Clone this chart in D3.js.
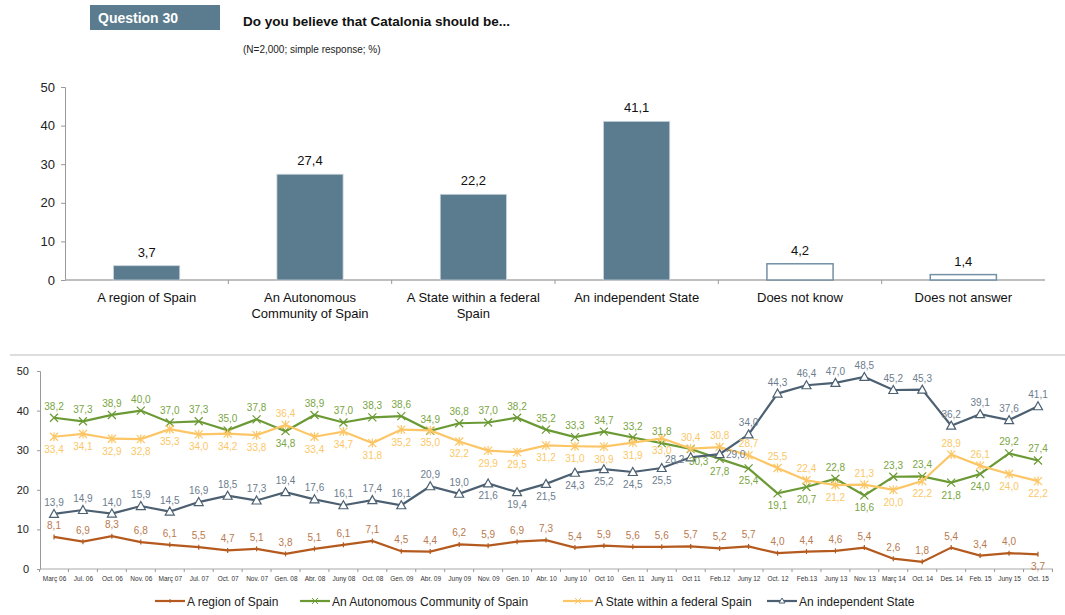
<!DOCTYPE html>
<html><head><meta charset="utf-8">
<script src="https://cdn.jsdelivr.net/npm/d3@7"></script>
<style>body{margin:0;background:#fff;font-family:"Liberation Sans",Arial,sans-serif}</style>
</head><body><svg id="c" width="1065" height="615"></svg>
<script>
// ---- data ----
const barCategories = ["A region of Spain","An Autonomous Community of Spain","A State within a federal Spain","An independent State","Does not know","Does not answer"];
const barLabelLines = [["A region of Spain"],["An Autonomous","Community of Spain"],["A State within a federal","Spain"],["An independent State"],["Does not know"],["Does not answer"]];
const barValues = [3.7, 27.4, 22.2, 41.1, 4.2, 1.4];
const barHollow = [false,false,false,false,true,true];
const barTicks = [0,10,20,30,40,50];

const waves = ["Març 06","Jul. 06","Oct. 06","Nov. 06","Març 07","Jul. 07","Oct. 07","Nov. 07","Gen. 08","Abr. 08","Juny 08","Oct. 08","Gen. 09","Abr. 09","Juny 09","Nov. 09","Gen. 10","Abr. 10","Juny 10","Oct 10","Gen. 11","Juny 11","Oct 11","Feb.12","Juny 12","Oct. 12","Feb.13","Juny 13","Nov. 13","Març 14","Oct. 14","Des. 14","Feb. 15","Juny 15","Oct. 15"];
const regionVals = [8.1,6.9,8.3,6.8,6.1,5.5,4.7,5.1,3.8,5.1,6.1,7.1,4.5,4.4,6.2,5.9,6.9,7.3,5.4,5.9,5.6,5.6,5.7,5.2,5.7,4.0,4.4,4.6,5.4,2.6,1.8,5.4,3.4,4.0,3.7];
const autonomousVals = [38.2,37.3,38.9,40.0,37.0,37.3,35.0,37.8,34.8,38.9,37.0,38.3,38.6,34.9,36.8,37.0,38.2,35.2,33.3,34.7,33.2,31.8,30.3,27.8,25.4,19.1,20.7,22.8,18.6,23.3,23.4,21.8,24.0,29.2,27.4];
const federalVals = [33.4,34.1,32.9,32.8,35.3,34.0,34.2,33.8,36.4,33.4,34.7,31.8,35.2,35.0,32.2,29.9,29.5,31.2,31.0,30.9,31.9,33.0,30.4,30.8,28.7,25.5,22.4,21.2,21.3,20.0,22.2,28.9,26.1,24.0,22.2];
const independentVals = [13.9,14.9,14.0,15.9,14.5,16.9,18.5,17.3,19.4,17.6,16.1,17.4,16.1,20.9,19.0,21.6,19.4,21.5,24.3,25.2,24.5,25.5,28.2,29.0,34.0,44.3,46.4,47.0,48.5,45.2,45.3,36.2,39.1,37.6,41.1];
// label side: 1 = above, -1 = below, 0 = right, 2 = below-left, 3 = below-right
const regionPos = [1,1,1,1,1,1,1,1,1,1,1,1,1,1,1,1,1,1,1,1,1,1,1,1,1,1,1,1,1,1,1,1,1,1,-1];
const autonomousPos = [1,1,1,1,1,1,1,1,-1,1,1,1,1,1,1,1,1,1,1,1,1,1,3,-1,-1,-1,-1,1,-1,1,1,-1,-1,1,1];
const federalPos = [-1,-1,-1,-1,-1,-1,-1,-1,1,-1,-1,-1,-1,-1,-1,-1,-1,-1,-1,-1,-1,-1,1,1,1,1,1,-1,1,-1,-1,1,1,-1,-1];
const independentPos = [1,1,1,1,1,1,1,1,1,1,1,1,1,1,1,-1,-1,-1,-1,-1,-1,-1,2,0,1,1,1,1,1,1,1,1,1,1,1];
const lineTicks = [0,10,20,30,40,50];

const fmt = v => v.toFixed(1).replace(".", ",");
const svg = d3.select("#c");

// ---- header ----
svg.append("rect").attr("x",90).attr("y",5).attr("width",130).attr("height",25).attr("fill","#5b7b8e");
svg.append("text").attr("x",98).attr("y",23).attr("fill","#fff").attr("font-size",14).attr("font-weight","bold").text("Question 30");
svg.append("text").attr("x",243).attr("y",26).attr("fill","#111").attr("font-size",13.5).attr("font-weight","bold").text("Do you believe that Catalonia should be...");
svg.append("text").attr("x",243).attr("y",53).attr("fill","#222").attr("font-size",10).text("(N=2,000; simple response; %)");

// ---- bar chart ----
const bx = d3.scaleBand().domain(barCategories).range([65,1045]).paddingInner(0.595).paddingOuter(0.2975);
const by = d3.scaleLinear().domain([0,50]).range([280,87]);
const gby = svg.append("g").attr("transform","translate(65,0)")
  .call(d3.axisLeft(by).tickValues(barTicks).tickSize(4).tickPadding(6));
gby.select(".domain").attr("stroke","#999");
gby.selectAll(".tick line").attr("stroke","#999");
gby.selectAll("text").attr("font-size",13).attr("fill","#222").attr("font-family","Liberation Sans, Arial");
svg.append("line").attr("x1",65).attr("x2",1045).attr("y1",280).attr("y2",280).attr("stroke","#aaa").attr("stroke-width",1.5);
const step = bx.step();
// tick marks between categories
barCategories.slice(1).forEach((c,i)=>{
  const xx = bx(c) - (step - bx.bandwidth())/2;
  svg.append("line").attr("x1",xx).attr("x2",xx).attr("y1",280).attr("y2",284).attr("stroke","#999");
});
svg.selectAll(".bar").data(barValues).enter().append("rect")
  .attr("x",(d,i)=>bx(barCategories[i])).attr("width",bx.bandwidth())
  .attr("y",d=>by(d)).attr("height",d=>by(0)-by(d))
  .attr("fill",(d,i)=>barHollow[i]?"#fff":"#5b7b8e")
  .attr("stroke",(d,i)=>barHollow[i]?"#7390a6":"#c7d3db").attr("stroke-width",(d,i)=>barHollow[i]?1.5:0.8);
svg.selectAll(".bl").data(barValues).enter().append("text")
  .attr("x",(d,i)=>bx(barCategories[i])+bx.bandwidth()/2).attr("y",d=>by(d)-9)
  .attr("text-anchor","middle").attr("font-size",13).attr("fill","#111").text(fmt);
barLabelLines.forEach((lines,i)=>{
  lines.forEach((t,j)=>{
    svg.append("text").attr("x",bx(barCategories[i])+bx.bandwidth()/2).attr("y",302+j*16)
      .attr("text-anchor","middle").attr("font-size",13).attr("fill","#111").text(t);
  });
});

// separator
svg.append("line").attr("x1",10).attr("x2",1065).attr("y1",355).attr("y2",355).attr("stroke","#ddd").attr("stroke-width",2);

// ---- line chart ----
const lx = d3.scalePoint().domain(waves).range([54,1038]);
const ly = d3.scaleLinear().domain([0,50]).range([569,371]);
const gly = svg.append("g").attr("transform","translate(40,0)")
  .call(d3.axisLeft(ly).tickValues(lineTicks).tickSize(3).tickPadding(8));
gly.select(".domain").attr("stroke","#999");
gly.selectAll(".tick line").attr("stroke","#999");
gly.selectAll("text").attr("font-size",11).attr("fill","#222").attr("font-family","Liberation Sans, Arial");
const glx = svg.append("g").attr("transform","translate(0,569)")
  .call(d3.axisBottom(lx).tickSize(0).tickPadding(7));
glx.select(".domain").remove();
glx.selectAll("text").attr("font-size",6.5).attr("fill","#333").attr("font-family","Liberation Sans, Arial");
svg.append("line").attr("x1",40).attr("x2",1053).attr("y1",569).attr("y2",569).attr("stroke","#aaa").attr("stroke-width",1.2);
const lstep = lx.step();
d3.range(0,36).forEach(i=>{
  const xx = 54 - lstep/2 + i*lstep;
  svg.append("line").attr("x1",xx).attr("x2",xx).attr("y1",569).attr("y2",572).attr("stroke","#999");
});

const series = [
  {name:"A region of Spain", vals:regionVals, pos:regionPos, color:"#b45a1e", label:"#b97a4f", marker:"dash"},
  {name:"An Autonomous Community of Spain", vals:autonomousVals, pos:autonomousPos, color:"#6b9a35", label:"#79a543", marker:"x"},
  {name:"A State within a federal Spain", vals:federalVals, pos:federalPos, color:"#fcc666", label:"#fbc766", marker:"star"},
  {name:"An independent State", vals:independentVals, pos:independentPos, color:"#4c6072", label:"#6d7d8d", marker:"tri"}
];
const line = d3.line().x((d,i)=>lx(waves[i])).y(d=>ly(d));
function marker(g, type, color, x, y){
  if(type==="x"){
    g.append("path").attr("d",`M${x-4},${y-4}L${x+4},${y+4}M${x-4},${y+4}L${x+4},${y-4}`).attr("stroke",color).attr("stroke-width",1.2).attr("fill","none");
  } else if(type==="star"){
    g.append("path").attr("d",`M${x-4},${y-4}L${x+4},${y+4}M${x-4},${y+4}L${x+4},${y-4}M${x},${y-4.5}L${x},${y+4.5}`).attr("stroke",color).attr("stroke-width",1.2).attr("fill","none");
  } else if(type==="tri"){
    g.append("path").attr("d",`M${x},${y-4.5}L${x+4.5},${y+3.5}L${x-4.5},${y+3.5}Z`).attr("stroke",color).attr("stroke-width",1.2).attr("fill","#fff");
  } else {
    g.append("path").attr("d",`M${x},${y-2.5}L${x},${y+2.5}`).attr("stroke",color).attr("stroke-width",1.2);
  }
}
series.forEach(s=>{
  const g = svg.append("g");
  g.append("path").datum(s.vals).attr("d",line).attr("fill","none").attr("stroke",s.color).attr("stroke-width",2.2);
  s.vals.forEach((v,i)=>marker(g,s.marker,s.color,lx(waves[i]),ly(v)));
});
series.forEach(s=>{
  s.vals.forEach((v,i)=>{
    const p = s.pos[i];
    let x = lx(waves[i]), y;
    if(p===1) y = ly(v)-8;
    else if(p===-1) y = ly(v)+16;
    else if(p===0){ x += 16; y = ly(v)+4; }
    else if(p===2){ x -= 16; y = ly(v)+6; }
    else { x += 8; y = ly(v)+16; }
    svg.append("text").attr("x",x).attr("y",y).attr("text-anchor","middle").attr("font-size",10).attr("fill",s.label).text(fmt(v));
  });
});

// legend
const legX = [155,300,563,767];
series.forEach((s,i)=>{
  const g = svg.append("g");
  g.append("line").attr("x1",legX[i]).attr("x2",legX[i]+30).attr("y1",601).attr("y2",601).attr("stroke",s.color).attr("stroke-width",2.2);
  if(s.marker==="tri"){
    g.append("path").attr("d",`M${legX[i]+15},${598}L${legX[i]+18},${603}L${legX[i]+12},${603}Z`).attr("stroke",s.color).attr("fill","#fff").attr("stroke-width",1);
  } else if(s.marker==="x"||s.marker==="star"){
    g.append("path").attr("d",`M${legX[i]+12},598L${legX[i]+18},604M${legX[i]+12},604L${legX[i]+18},598`).attr("stroke",s.color).attr("stroke-width",1);
  } else {
    g.append("line").attr("x1",legX[i]+15).attr("x2",legX[i]+15).attr("y1",599).attr("y2",603).attr("stroke",s.color);
  }
  g.append("text").attr("x",legX[i]+32).attr("y",605.5).attr("font-size",12).attr("fill","#222").text(s.name);
});
</script></body></html>
